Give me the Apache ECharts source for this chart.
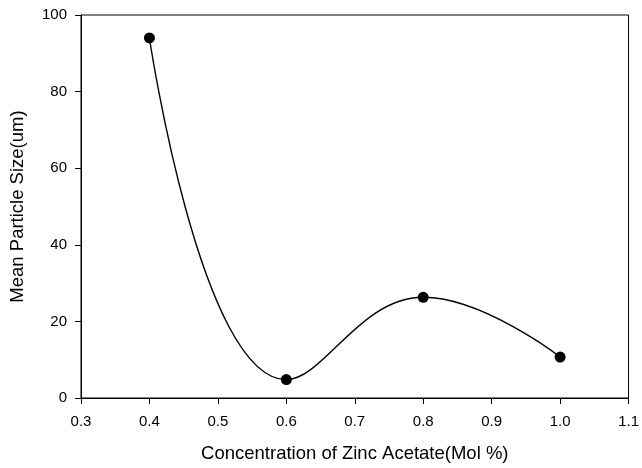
<!DOCTYPE html>
<html>
<head>
<meta charset="utf-8">
<script src="https://cdn.jsdelivr.net/npm/echarts@6/dist/echarts.min.js"></script>
<style>html,body{margin:0;padding:0;background:#fff}#c{width:642px;height:468px}</style>
</head>
<body>
<div id="c"></div>
<script>
const concentration = [0.4, 0.6, 0.8, 1.0];
const particleSize = [94.0, 4.8, 26.3, 10.7];
const xTitle = 'Concentration of Zinc Acetate(Mol %)';
const yTitle = 'Mean Particle Size(um)';

const chart = echarts.init(document.getElementById('c'), null, {renderer: 'canvas'});
const font = 'Liberation Sans, Arial, sans-serif';
chart.setOption({
  animation: false,
  backgroundColor: '#fff',
  grid: {left: 78, right: 10, top: 15, bottom: 69, show: true, borderColor: '#000', borderWidth: 1, containLabel: false},
  xAxis: {
    type: 'value', min: 0.3, max: 1.1, interval: 0.1,
    name: xTitle, nameLocation: 'middle', nameGap: 46,
    nameTextStyle: {fontFamily: font, fontSize: 18.5, color: '#000'},
    axisLine: {show: true, lineStyle: {color: '#000', width: 1}},
    axisTick: {show: true, inside: false, length: 6, lineStyle: {color: '#000'}},
    axisLabel: {fontFamily: font, fontSize: 15, color: '#000', margin: 16,
      formatter: v => v.toFixed(1)},
    splitLine: {show: false}
  },
  yAxis: {
    type: 'value', min: 0, max: 100, interval: 20,
    name: yTitle, nameLocation: 'middle', nameGap: 54,
    nameTextStyle: {fontFamily: font, fontSize: 18.5, color: '#000'},
    axisLine: {show: true, lineStyle: {color: '#000', width: 1}},
    axisTick: {show: true, inside: false, length: 6, lineStyle: {color: '#000'}},
    axisLabel: {fontFamily: font, fontSize: 15, color: '#000', margin: 14},
    splitLine: {show: false}
  },
  series: [{
    type: 'line',
    data: concentration.map((x, i) => [x, particleSize[i]]),
    smooth: 0.45,
    symbol: 'circle', symbolSize: 11,
    itemStyle: {color: '#000'},
    lineStyle: {color: '#000', width: 1.4}
  }]
});
</script>
</body>
</html>
